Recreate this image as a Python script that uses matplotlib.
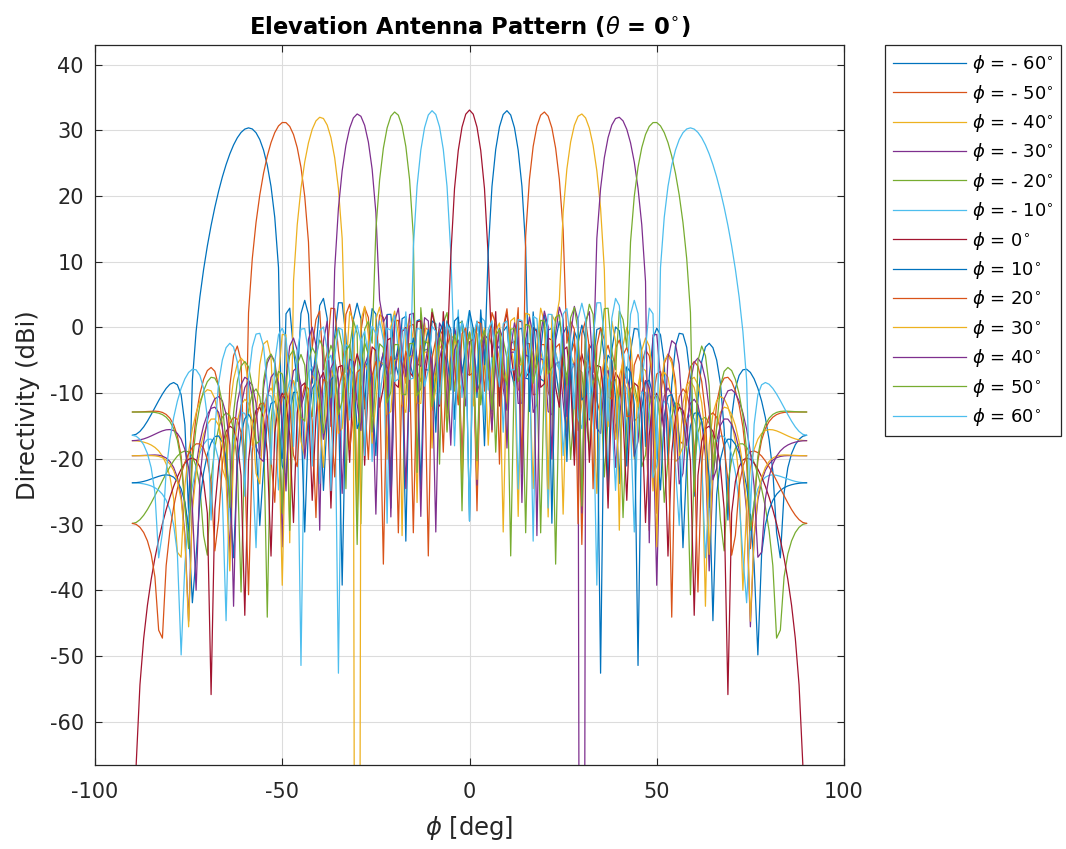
import numpy as np
import matplotlib
matplotlib.use("Agg")
import matplotlib.pyplot as plt

# Beam steering angles (deg) and the peak directivity of each beam (dBi)
steer_deg = [-60, -50, -40, -30, -20, -10, 0, 10, 20, 30, 40, 50, 60]
peak_dbi = [30.2, 31.2, 32.0, 32.5, 32.8, 33.0, 33.1, 33.0, 32.8, 32.5, 32.0, 31.2, 30.2]

# Array description: elements along the cut, Taylor taper, element pattern shape
n_elements = 30
taylor_nbar = 4
taylor_sll_db = 30
element_cos_power = 3.0
element_floor = 0.014

colors = ["#0072BD", "#D95319", "#EDB120", "#7E2F8E", "#77AC30", "#4DBEEE", "#A2142F"]

plt.rcParams["font.family"] = ["DejaVu Sans"]
plt.rcParams["mathtext.fontset"] = "dejavusans"
plt.rcParams["axes.unicode_minus"] = False


def taylor_weights(n, nbar, sll):
    a = np.arccosh(10 ** (sll / 20.0)) / np.pi
    s2 = nbar ** 2 / (a ** 2 + (nbar - 0.5) ** 2)
    ms = np.arange(1, nbar)
    fm = np.empty(nbar - 1)
    for i, m in enumerate(ms):
        num = np.prod(1 - m ** 2 / s2 / (a ** 2 + (ms - 0.5) ** 2))
        den = 2 * np.prod(1 - m ** 2 / ms[ms != m] ** 2.0)
        fm[i] = (-1) ** (m + 1) * num / den
    xi = (np.arange(n) - n / 2 + 0.5) / n
    w = 1 + 2 * np.sum(fm[:, None] * np.cos(2 * np.pi * ms[:, None] * xi), axis=0)
    return w / w.max()


weights = taylor_weights(n_elements, taylor_nbar, taylor_sll_db)
pos = np.arange(n_elements) - (n_elements - 1) / 2.0
az = np.arange(-90, 91, 1.0)
az_r = np.deg2rad(az)


def element_power(theta):
    return np.abs(np.cos(theta)) ** element_cos_power + element_floor


def directivity(steer, peak):
    s = np.deg2rad(steer)
    psi = np.pi * (np.sin(az_r) - np.sin(s))
    af = np.abs(np.exp(1j * np.outer(psi, pos)) @ weights) / weights.sum()
    af = np.maximum(af, 1e-16)
    elem = 10 * np.log10(element_power(az_r) / element_power(s))
    return peak + elem + 20 * np.log10(af)


fig = plt.figure(figsize=(10.66, 8.49), dpi=100)
ax = fig.add_axes([95 / 1066, 1 - 765 / 849, (844 - 95) / 1066, (765 - 45) / 849])

for k, (st, pk) in enumerate(zip(steer_deg, peak_dbi)):
    if st < 0:
        lab = r"$\phi$ = - %d$^{\circ}$" % abs(st)
    else:
        lab = r"$\phi$ = %d$^{\circ}$" % st
    ax.plot(az, directivity(st, pk), color=colors[k % len(colors)], lw=0.9, label=lab)

ax.set_xlim(-100, 100)
ax.set_ylim(-66.6, 43)
ax.set_xticks([-100, -50, 0, 50, 100])
ax.set_yticks(np.arange(-60, 41, 10))
ax.grid(True, color="#dcdcdc", lw=0.8)
ax.set_axisbelow(True)
ax.tick_params(direction="in", length=5, width=0.8, labelsize=15, colors="#262626",
               top=True, right=True)
ax.tick_params(axis="x", pad=12)
ax.tick_params(axis="y", pad=8)
for sp in ax.spines.values():
    sp.set_color("#262626")
    sp.set_linewidth(0.9)

ax.set_title(r"Elevation Antenna Pattern ($\theta$ = 0$^{\circ}$)", fontsize=16.3,
             fontweight="bold", pad=8)
ax.set_xlabel(r"$\phi$ [deg]", fontsize=17.5, color="#262626", labelpad=9)
ax.set_ylabel("Directivity (dBi)", fontsize=17.5, color="#262626", labelpad=7)

leg = fig.legend(loc="upper left", bbox_to_anchor=(885 / 1066, 1 - 45 / 849),
                 borderaxespad=0, fontsize=13, handlelength=4.05, handletextpad=0.3,
                 labelspacing=0.41, borderpad=0.45, fancybox=False, framealpha=1,
                 edgecolor="#262626")
leg.get_frame().set_linewidth(0.9)

fig.savefig("out.png", dpi=100)
